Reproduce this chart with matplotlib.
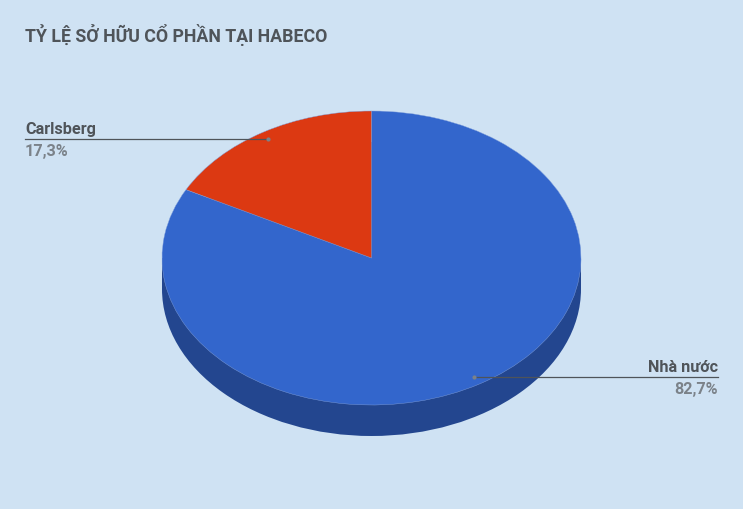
import matplotlib
matplotlib.use("Agg")
import matplotlib.pyplot as plt
from matplotlib.patches import Ellipse, Rectangle

title = "TỶ LỆ SỞ HỮU CỔ PHẦN TẠI HABECO"
labels = ["Nhà nước", "Carlsberg"]
shares = [82.7, 17.3]
share_text = ["82,7%", "17,3%"]

BG = "#cfe2f3"
TEXT = "#4f5459"
GREY = "#7b8289"
W, H = 743, 509

plt.rcParams["font.family"] = ["Roboto", "DejaVu Sans"]
fig = plt.figure(figsize=(W / 100, H / 100), dpi=100, facecolor=BG)

# the pie is squashed, so it gets its own axes with auto aspect
left, right, top, bottom = 162, 581, 111, 436
depth = 31 / 147
ax = fig.add_axes([left / W, 1 - bottom / H, (right - left) / W, (bottom - top) / H])
ax.add_patch(Ellipse((0, -depth), 2, 2, color="#23468f", lw=0))
ax.add_patch(Rectangle((-1, -depth), 2, depth, color="#23468f", lw=0))
ax.pie(shares, colors=["#3366cc", "#dc3912"], startangle=90, counterclock=False,
       wedgeprops={"linewidth": 0.3, "edgecolor": "#7f9fdc"})
ax.set_aspect("auto")
ax.set_xlim(-1, 1)
ax.set_ylim(-1 - depth, 1)
ax.axis("off")

# overlay in pixel coordinates for the title and the callouts
over = fig.add_axes([0, 0, 1, 1])
over.set_xlim(0, W)
over.set_ylim(H, 0)
over.axis("off")
over.patch.set_alpha(0)

over.text(25, 35, title, fontsize=12.8, fontweight="bold", color=TEXT, va="center", ha="left")

# Carlsberg callout
over.plot([25, 268], [139, 139], color=TEXT, lw=0.9)
over.plot([268], [139], "o", ms=3, color=GREY, mew=0)
over.text(25, 129.5, labels[1], fontsize=11.7, fontweight="bold", color=TEXT, va="center", ha="left")
over.text(25, 151.5, share_text[1], fontsize=11.7, fontweight="bold", color=GREY, va="center", ha="left")

# Nha nuoc callout
over.plot([474, 718], [377, 377], color=TEXT, lw=0.9)
over.plot([474], [377], "o", ms=3, color=GREY, mew=0)
over.text(718, 367.5, labels[0], fontsize=11.7, fontweight="bold", color=TEXT, va="center", ha="right")
over.text(718, 389.5, share_text[0], fontsize=11.7, fontweight="bold", color=GREY, va="center", ha="right")

fig.savefig("out.png", dpi=100, facecolor=BG)
